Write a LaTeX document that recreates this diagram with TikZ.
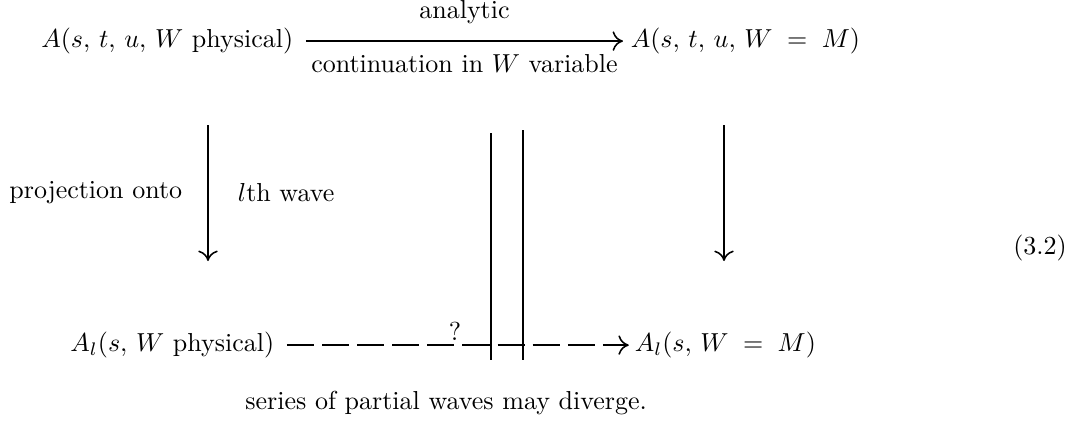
\documentclass[tikz,border=0pt]{standalone}
\usepackage{amsmath}
\usetikzlibrary{arrows.meta}

\begin{document}
\begin{tikzpicture}[>={To[length=4pt,width=7.5pt]}, x=0.3846pt, y=-0.3846pt, line width=0.6pt]
\useasboundingbox (0,0) rectangle (1086,424);

% Top row
\node[anchor=mid east, inner sep=0pt] (Aphys) at (294,42) {$A(s,\, t,\, u,\, W$ physical$)$};
\node[anchor=mid west, inner sep=0pt] (AM) at (630,42) {$A(s,\, t,\, u,\, W \;=\; M)$};
\draw[->] ([xshift=4.6pt]Aphys.east) -- ([xshift=-2.7pt]AM.west)
  node[midway, above=3pt] (ana) {analytic}
  node[midway, below=1.5pt] (cont) {continuation in $W$ variable};

% Bottom row
\node[anchor=mid east, inner sep=0pt] (Alphys) at (275,346) {$A_l(s,\, W$ physical$)$};
\node[anchor=mid west, inner sep=0pt] (AlM) at (634,346) {$A_l(s,\, W \;=\; M)$};
\draw[->, dash pattern=on 10.4pt off 3.1pt] ([xshift=4.6pt]Alphys.east) -- ([xshift=-2pt]AlM.west);
\node (q) at (455,331) {?};

% Vertical arrows
\coordinate (lt) at (208,125);
\coordinate (lb) at (208,261);
\draw[->] (lt) -- (lb)
  node[midway, left=6.3pt] (proj) {projection onto}
  node[midway, right=7.9pt] (lth) {$l$th wave};
\coordinate (rt) at (724,125);
\coordinate (rb) at (724,261);
\draw[->] (rt) -- (rb);

% Bars
\coordinate (b1t) at (491,133);
\coordinate (b1b) at (491,360);
\coordinate (b2t) at (523,130);
\coordinate (b2b) at (523,360);
\draw (b1t) -- (b1b);
\draw (b2t) -- (b2b);

% Bottom text and equation number
\node[anchor=west] (series) at (236,403) {series of partial waves may diverge.};
\node (eqno) at (1040,248) {(3.2)};

\end{tikzpicture}
\end{document}
